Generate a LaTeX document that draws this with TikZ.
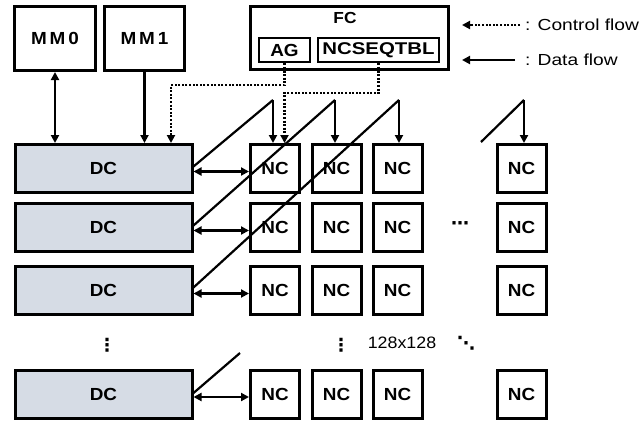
\documentclass[tikz,border=0pt]{standalone}
\usepackage{fontspec}
\setmainfont[FakeStretch=1.08]{Liberation Sans}
\newfontfamily\widefont[FakeStretch=1.2]{Liberation Sans}
\newfontfamily\dotfont{DejaVu Sans}
\usetikzlibrary{arrows.meta}
\definecolor{dcfill}{RGB}{214,220,229}
\begin{document}
\begin{tikzpicture}[x=1pt,y=-1pt,
  box/.style={draw, line width=3pt, inner sep=0pt, font=\fontsize{17.5}{18}\selectfont\bfseries},
  ncbox/.style={box, minimum width=49pt, minimum height=48pt},
  dcbox/.style={box, fill=dcfill, minimum width=177pt, minimum height=48pt},
  mmbox/.style={box, minimum height=64pt},
  subbox/.style={box, line width=2.6pt, minimum height=24pt},
  tip/.style={-{Triangle[length=8pt,width=8pt]}},
  biarrow/.style={{Triangle[length=8pt,width=8pt]}-{Triangle[length=8pt,width=8pt]}, line width=2.2pt},
  flow/.style={tip, line width=2.2pt},
  ctrl/.style={tip, line width=2.8pt, dash pattern=on 2pt off 1.6pt},
  diag/.style={line width=2.2pt},
  legend/.style={anchor=west, inner sep=0pt, font=\widefont\fontsize{16}{18}\selectfont},
  dots/.style={inner sep=0pt, font=\dotfont\bfseries\fontsize{18}{20}\selectfont}
]
\useasboundingbox (0,0) rectangle (642,421);

% top boxes
\node[mmbox, minimum width=81pt] (MM0) at (55,38.5) {M\kern3ptM\kern3pt0};
\node[mmbox, minimum width=80pt] (MM1) at (144.5,38.5) {M\kern3ptM\kern3pt1};
\node[box, minimum width=198pt, minimum height=63pt] (FC) at (349.5,38) {};
\node[inner sep=0pt, font=\fontsize{16}{18}\selectfont\bfseries] (FCl) at (345,17.5) {FC};
\node[subbox, minimum width=51pt] (AG) at (284.5,50) {AG};
\node[subbox, minimum width=121pt, font=\widefont\fontsize{17}{18}\selectfont\bfseries] (SEQ) at (378.5,50) {NCSEQTBL};

% DC column
\node[dcbox] (DC1) at (103.5,168.5) {DC};
\node[dcbox] (DC2) at (103.5,227.5) {DC};
\node[dcbox] (DC3) at (103.5,290.5) {DC};
\node[dcbox] (DC4) at (103.5,394) {DC};

% NC grid
\foreach \r/\y in {1/168.5,2/227.5,3/290.5,4/394}{
  \foreach \c/\x in {1/275,2/336.5,3/397.5,4/521.5}{
    \node[ncbox] (NC\r\c) at (\x,\y) {NC};
  }
}

% dots and label
\node[dots] (vd1) at (107,345) {⋮};
\node[dots] (vd2) at (341,345) {⋮};
\node[dots] (dd) at (466,343.5) {⋱};
\node[dots] (hd) at (460,226) {⋯};
\node[inner sep=0pt, font=\fontsize{16.5}{18}\selectfont] (size) at (402,343) {128x128};

% MM arrows
\draw[biarrow] (MM0.south) -- (MM0.south |- DC1.north);
\draw[flow] (MM1.south) -- (MM1.south |- DC1.north);

% control flow
\coordinate (agc) at (171,85);
\draw[ctrl] (AG.south) |- (agc) -- (agc |- DC1.north);
\coordinate (seqc) at (284.5,93);
\draw[ctrl] (SEQ.south) |- (seqc) -- (seqc |- NC11.north);

% DC <-> NC arrows
\foreach \r in {1,2,3,4}{
  \draw[biarrow] ([yshift=-3pt]DC\r.east) -- ([yshift=-3pt]DC\r.east -| NC\r1.west);
}

% diagonal feed lines
\coordinate (t1) at (273,100);
\coordinate (t2) at (335,100);
\coordinate (t3) at (399,100);
\coordinate (t4) at (524,100);
\coordinate (b4) at (481,142);
\coordinate (e4) at (240,353);
\draw[diag] ([yshift=2pt]DC1.east) -- (t1);
\draw[flow] (t1) -- (t1 |- NC11.north);
\draw[diag] ([yshift=2pt]DC2.east) -- (t2);
\draw[flow] (t2) -- (t2 |- NC12.north);
\draw[diag] ([yshift=3pt]DC3.east) -- (t3);
\draw[flow] (t3) -- (t3 |- NC13.north);
\draw[diag] (b4) -- (t4);
\draw[flow] (t4) -- (t4 |- NC14.north);
\draw[diag] ([yshift=1pt]DC4.east) -- (e4);

% legend
\coordinate (lc1) at (520,25);
\coordinate (lc2) at (462,25);
\draw[ctrl] (lc1) -- (lc2);
\node[legend] (lcl) at (525,25) {: Control flow};
\coordinate (ld1) at (515,60);
\coordinate (ld2) at (462,60);
\draw[flow] (ld1) -- (ld2);
\node[legend] (ldl) at (525,60) {: Data flow};
\end{tikzpicture}
\end{document}
